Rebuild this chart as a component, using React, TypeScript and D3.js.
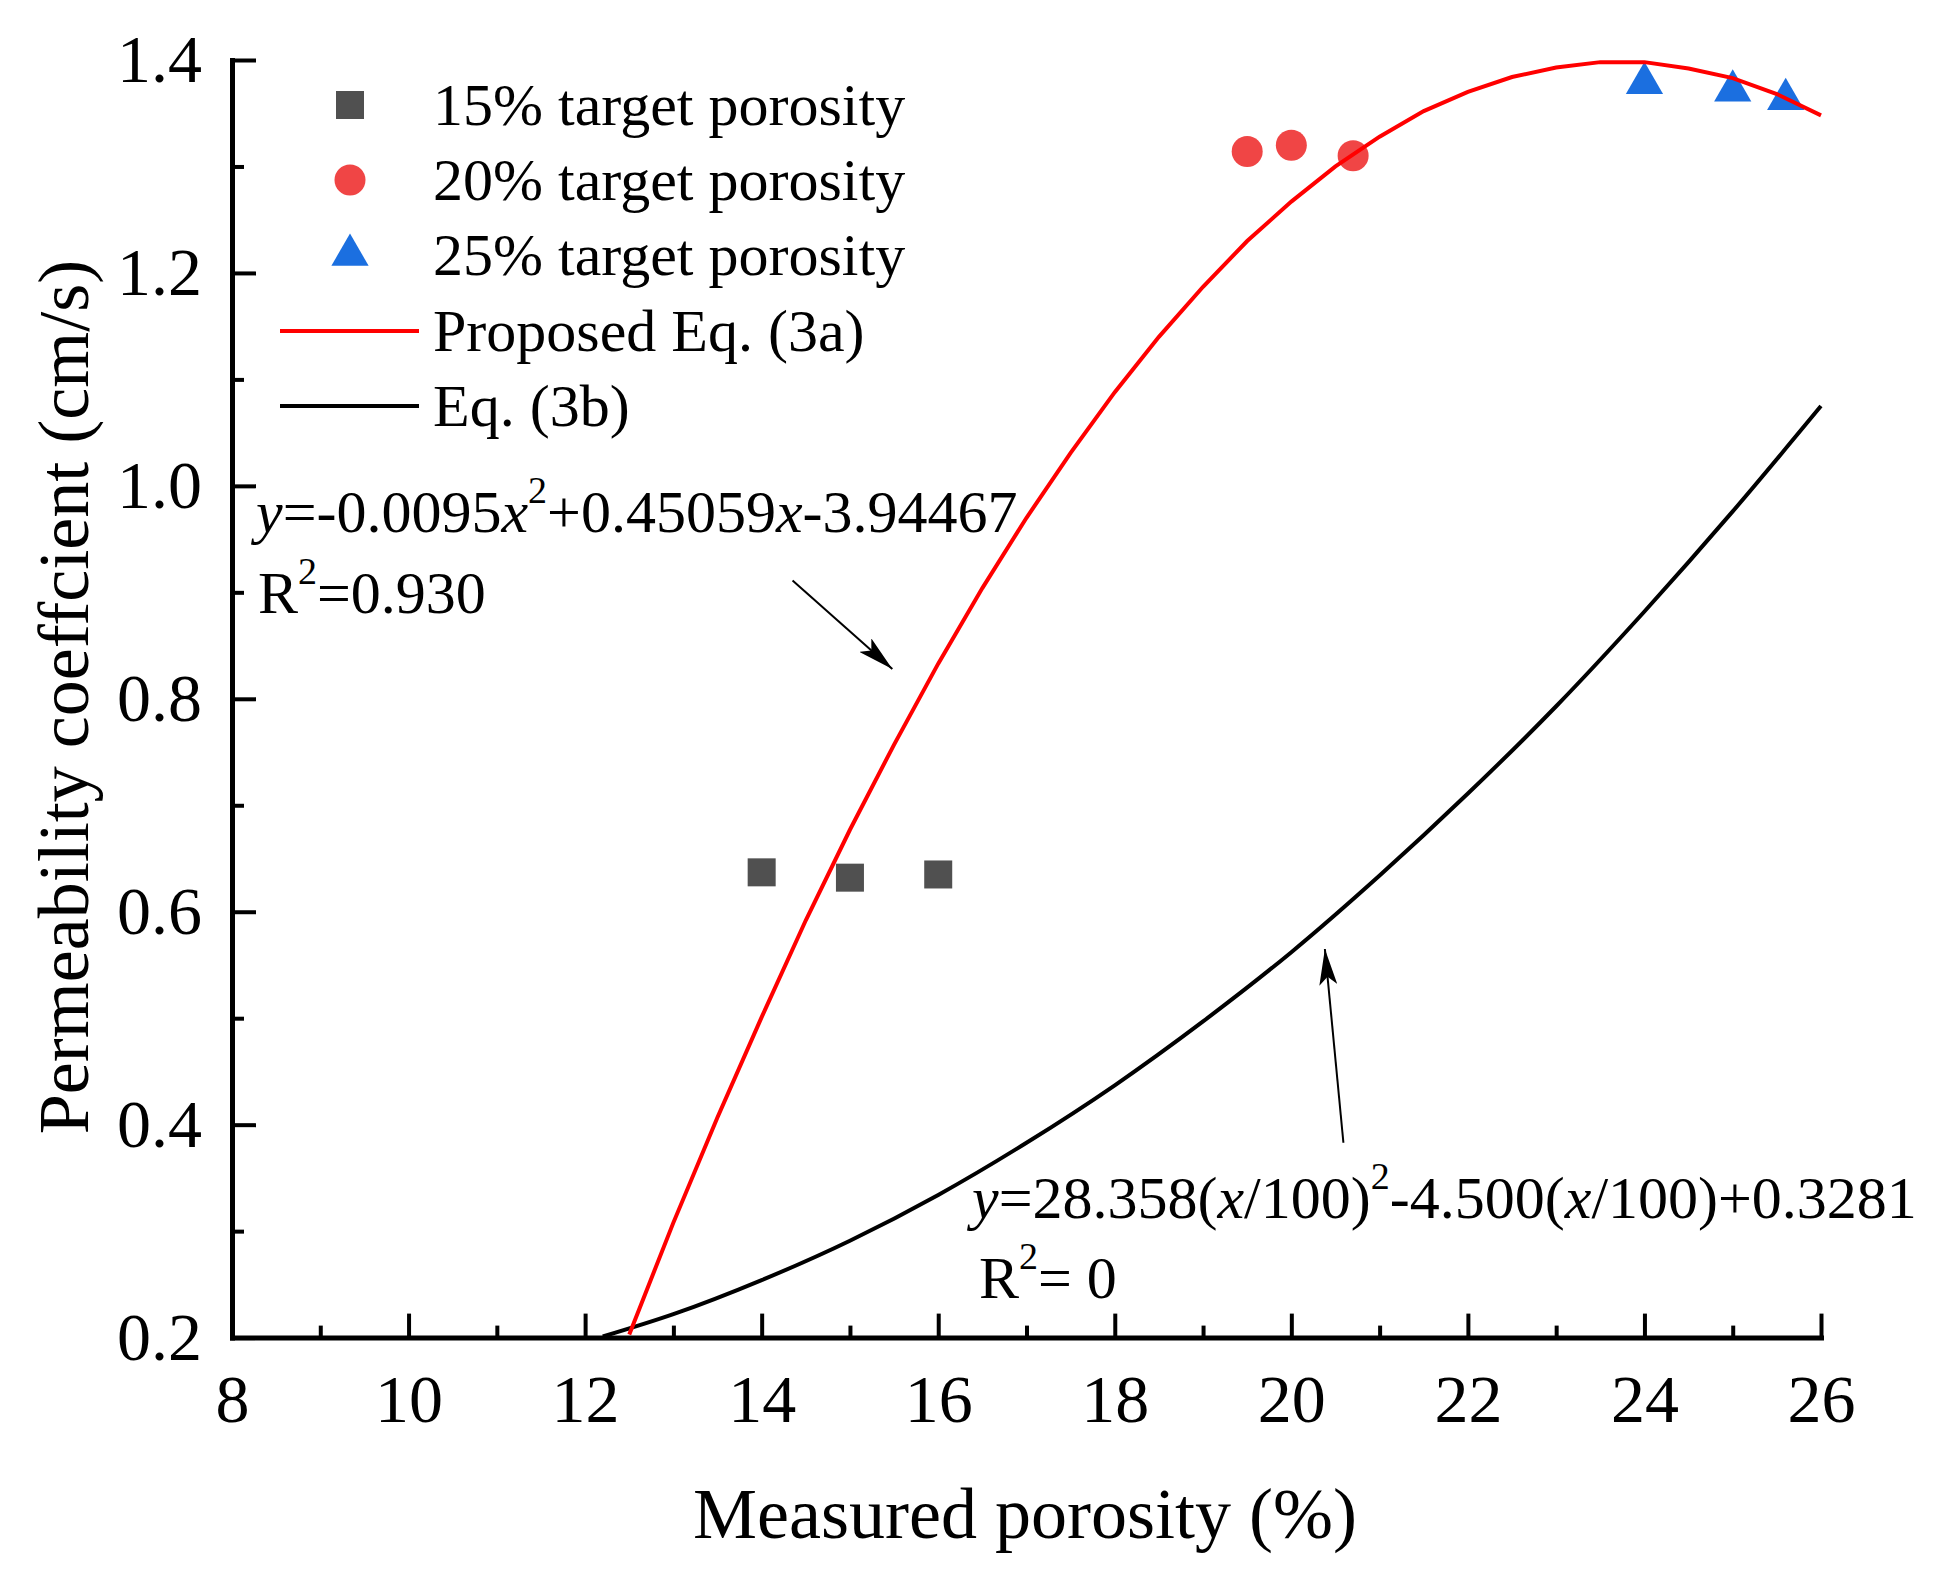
import { useEffect, useRef } from "react"
import * as d3 from "d3"

// Measured points
const squareX = [14, 15, 16]
const squareY = [0.637, 0.632, 0.635]
const circleX = [19.5, 20, 20.7]
const circleY = [1.314, 1.32, 1.31]
const triangleX = [24, 25, 25.6]
const triangleY = [1.381, 1.374, 1.366]

// Proposed Eq. (3a) curve
const redX = [12.5, 13, 13.5, 14, 14.5, 15, 15.5, 16, 16.5, 17, 17.5, 18, 18.5, 19, 19.5, 20, 20.5, 21, 21.5, 22, 22.5, 23, 23.5, 24, 24.5, 25, 25.5, 26]
const redY = [0.203, 0.308, 0.407, 0.501, 0.592, 0.677, 0.757, 0.833, 0.904, 0.97, 1.031, 1.088, 1.14, 1.187, 1.23, 1.267, 1.3, 1.328, 1.352, 1.37, 1.384, 1.393, 1.398, 1.398, 1.392, 1.383, 1.368, 1.348]

// Eq. (3b) curve
const blackX = [12.2, 13, 14, 15, 16, 17, 18, 19, 20, 21, 22, 23, 24, 25, 26]
const blackY = [0.201, 0.222, 0.254, 0.291, 0.334, 0.383, 0.437, 0.497, 0.562, 0.634, 0.711, 0.793, 0.882, 0.976, 1.075]

const xMajor = [8, 10, 12, 14, 16, 18, 20, 22, 24, 26]
const xMinor = [9, 11, 13, 15, 17, 19, 21, 23, 25]
const yMajor = [0.2, 0.4, 0.6, 0.8, 1.0, 1.2, 1.4]
const yMinor = [0.3, 0.5, 0.7, 0.9, 1.1, 1.3]

const legendLabels = ["15% target porosity", "20% target porosity", "25% target porosity", "Proposed Eq. (3a)", "Eq. (3b)"]

// arrows in data units: [x1, y1, x2, y2]
const arrow1 = [14.35, 0.911, 15.48, 0.828]
const arrow2 = [20.59, 0.383, 20.38, 0.565]

const FONT = "'Liberation Serif', 'Times New Roman', serif"
const RED = "#ff0000"
const GRAY = "#505050"
const PINK = "#f04545"
const BLUE = "#1b6fe0"

export default function App() {
  const svgRef = useRef<SVGSVGElement>(null)

  useEffect(() => {
    if (!svgRef.current) return
    const W = 1953
    const H = 1588
    const left = 232
    const right = 1821
    const top = 60
    const bottom = 1337.6

    const svg = d3.select(svgRef.current)
    svg.selectAll("*").remove()
    svg.attr("width", W).attr("height", H).style("font-family", FONT)

    svg.append("rect").attr("width", W).attr("height", H).attr("fill", "#fff")

    const x = d3.scaleLinear().domain([8, 26]).range([left, right])
    const y = d3.scaleLinear().domain([0.2, 1.4]).range([bottom, top])

    // arrow marker
    const defs = svg.append("defs")
    defs
      .append("marker")
      .attr("id", "arrowhead")
      .attr("markerUnits", "userSpaceOnUse")
      .attr("viewBox", "0 0 36 18")
      .attr("refX", 36)
      .attr("refY", 9)
      .attr("markerWidth", 36)
      .attr("markerHeight", 18)
      .attr("orient", "auto")
      .append("path")
      .attr("d", "M0,0 L36,9 L0,18 L8,9 Z")
      .attr("fill", "#000")

    // scatter markers (under the lines)
    const sq = 28
    svg
      .append("g")
      .selectAll("rect")
      .data(squareX.map((d, i) => [d, squareY[i]]))
      .join("rect")
      .attr("x", (d) => x(d[0]) - sq / 2)
      .attr("y", (d) => y(d[1]) - sq / 2)
      .attr("width", sq)
      .attr("height", sq)
      .attr("fill", GRAY)

    svg
      .append("g")
      .selectAll("circle")
      .data(circleX.map((d, i) => [d, circleY[i]]))
      .join("circle")
      .attr("cx", (d) => x(d[0]))
      .attr("cy", (d) => y(d[1]))
      .attr("r", 15.5)
      .attr("fill", PINK)

    const tri = d3.symbol().type(d3.symbolTriangle).size(600)
    svg
      .append("g")
      .selectAll("path")
      .data(triangleX.map((d, i) => [d, triangleY[i]]))
      .join("path")
      .attr("d", tri)
      .attr("transform", (d) => `translate(${x(d[0])},${y(d[1]) + 3})`)
      .attr("fill", BLUE)

    // curves
    const line = d3
      .line<[number, number]>()
      .x((d) => x(d[0]))
      .y((d) => y(d[1]))
      .curve(d3.curveMonotoneX)

    svg
      .append("path")
      .datum(blackX.map((d, i) => [d, blackY[i]] as [number, number]))
      .attr("d", line)
      .attr("fill", "none")
      .attr("stroke", "#000")
      .attr("stroke-width", 4)

    svg
      .append("path")
      .datum(redX.map((d, i) => [d, redY[i]] as [number, number]))
      .attr("d", line.curve(d3.curveLinear))
      .attr("fill", "none")
      .attr("stroke", RED)
      .attr("stroke-width", 4)

    // axes
    const styleAxis = (g: d3.Selection<SVGGElement, unknown, null, undefined>) => {
      g.select(".domain").attr("stroke-width", 5).attr("stroke-linecap", "square")
      g.selectAll(".tick line").attr("stroke-width", 4)
      g.selectAll(".tick text").attr("font-size", 68).attr("font-family", FONT).attr("fill", "#000")
    }

    svg
      .append("g")
      .attr("transform", `translate(0,${bottom})`)
      .call(d3.axisBottom(x).tickValues(xMinor).tickSizeInner(-12).tickSizeOuter(0).tickFormat(() => ""))
      .call((g) => g.select(".domain").remove())
      .call((g) => g.selectAll(".tick line").attr("stroke-width", 4))

    svg
      .append("g")
      .attr("transform", `translate(${left},0)`)
      .call(d3.axisLeft(y).tickValues(yMinor).tickSizeInner(-12).tickSizeOuter(0).tickFormat(() => ""))
      .call((g) => g.select(".domain").remove())
      .call((g) => g.selectAll(".tick line").attr("stroke-width", 4))

    svg
      .append("g")
      .attr("transform", `translate(0,${bottom})`)
      .call(d3.axisBottom(x).tickValues(xMajor).tickSizeInner(-24).tickSizeOuter(0).tickPadding(36).tickFormat(d3.format("d")))
      .call(styleAxis)

    svg
      .append("g")
      .attr("transform", `translate(${left},0)`)
      .call(d3.axisLeft(y).tickValues(yMajor).tickSizeInner(-24).tickSizeOuter(0).tickPadding(30).tickFormat(d3.format(".1f")))
      .call(styleAxis)

    // axis titles
    svg
      .append("text")
      .attr("x", 1025)
      .attr("y", 1538)
      .attr("text-anchor", "middle")
      .attr("font-size", 72)
      .text("Measured porosity (%)")

    svg
      .append("text")
      .attr("transform", "translate(88,697) rotate(-90)")
      .attr("text-anchor", "middle")
      .attr("font-size", 72)
      .text("Permeability coeffcient (cm/s)")

    // legend
    const legendX = 350
    const legendText = 433
    const baselines = [125, 200, 275, 351, 426]
    const lg = svg.append("g")
    lg.append("rect").attr("x", legendX - sq / 2).attr("y", 105 - sq / 2).attr("width", sq).attr("height", sq).attr("fill", GRAY)
    lg.append("circle").attr("cx", legendX).attr("cy", 180).attr("r", 15.5).attr("fill", PINK)
    lg.append("path").attr("d", tri).attr("transform", `translate(${legendX},255)`).attr("fill", BLUE)
    lg.append("line").attr("x1", 280).attr("x2", 419).attr("y1", 331).attr("y2", 331).attr("stroke", RED).attr("stroke-width", 4)
    lg.append("line").attr("x1", 280).attr("x2", 419).attr("y1", 406).attr("y2", 406).attr("stroke", "#000").attr("stroke-width", 4)
    lg.selectAll("text.lbl")
      .data(legendLabels)
      .join("text")
      .attr("class", "lbl")
      .attr("x", legendText)
      .attr("y", (_, i) => baselines[i])
      .attr("font-size", 60)
      .text((d) => d)

    // equation annotations
    const eq1 = svg.append("text").attr("x", 256).attr("y", 532).attr("font-size", 60)
    eq1.append("tspan").attr("font-style", "italic").text("y")
    eq1.append("tspan").text("=-0.0095")
    eq1.append("tspan").attr("font-style", "italic").text("x")
    eq1.append("tspan").attr("font-size", 38).attr("dy", -29).text("2")
    eq1.append("tspan").attr("dy", 29).text("+0.45059")
    eq1.append("tspan").attr("font-style", "italic").text("x")
    eq1.append("tspan").text("-3.94467")

    const r1 = svg.append("text").attr("x", 258).attr("y", 613).attr("font-size", 60)
    r1.append("tspan").text("R")
    r1.append("tspan").attr("font-size", 38).attr("dy", -29).text("2")
    r1.append("tspan").attr("dy", 29).text("=0.930")

    const eq2 = svg.append("text").attr("x", 972).attr("y", 1218).attr("font-size", 60)
    eq2.append("tspan").attr("font-style", "italic").text("y")
    eq2.append("tspan").text("=28.358(")
    eq2.append("tspan").attr("font-style", "italic").text("x")
    eq2.append("tspan").text("/100)")
    eq2.append("tspan").attr("font-size", 38).attr("dy", -29).text("2")
    eq2.append("tspan").attr("dy", 29).text("-4.500(")
    eq2.append("tspan").attr("font-style", "italic").text("x")
    eq2.append("tspan").text("/100)+0.3281")

    const r2 = svg.append("text").attr("x", 979).attr("y", 1298).attr("font-size", 60)
    r2.append("tspan").text("R")
    r2.append("tspan").attr("font-size", 38).attr("dy", -29).text("2")
    r2.append("tspan").attr("dy", 29).text("= 0")

    // arrows
    for (const a of [arrow1, arrow2]) {
      svg
        .append("line")
        .attr("x1", x(a[0]))
        .attr("y1", y(a[1]))
        .attr("x2", x(a[2]))
        .attr("y2", y(a[3]))
        .attr("stroke", "#000")
        .attr("stroke-width", 2)
        .attr("marker-end", "url(#arrowhead)")
    }
  }, [])

  return (
    <div style={{ position: "absolute", left: 0, top: 0 }}>
      <svg ref={svgRef} style={{ display: "block" }} />
    </div>
  )
}
